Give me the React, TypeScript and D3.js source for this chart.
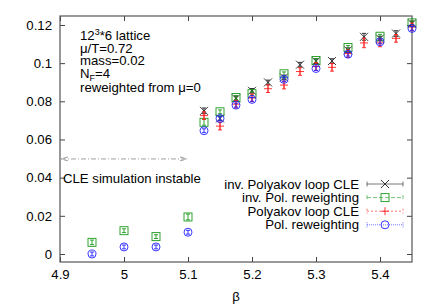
import React, { useEffect, useRef } from 'react';
import * as d3 from 'd3';

// beta values where the reweighting results exist
const betaRW = [4.95, 5.0, 5.05, 5.1, 5.125, 5.15, 5.175, 5.2, 5.25, 5.3, 5.35, 5.4, 5.45];
const invPolRW = [0.0061, 0.0122, 0.0091, 0.0194, 0.069, 0.0745, 0.082, 0.084, 0.0944, 0.1014, 0.1082, 0.1141, 0.1211];
const invPolRWErr = [0.0012, 0.001, 0.001, 0.0015, 0.0015, 0.001, 0.001, 0.001, 0.001, 0.001, 0.001, 0.001, 0.001];
const polRW = [0.0, 0.0037, 0.0037, 0.0114, 0.0646, 0.071, 0.078, 0.081, 0.0915, 0.0972, 0.1047, 0.1112, 0.1182];
const polRWErr = [0.001, 0.001, 0.001, 0.001, 0.001, 0.001, 0.001, 0.001, 0.001, 0.001, 0.001, 0.001, 0.001];

// beta values where CLE results exist
const betaCLE = [5.125, 5.15, 5.175, 5.2, 5.225, 5.25, 5.275, 5.3, 5.325, 5.35, 5.375, 5.4, 5.425, 5.45];
const invPolCLE = [0.075, 0.071, 0.0815, 0.0855, 0.0899, 0.0925, 0.0992, 0.101, 0.1011, 0.1068, 0.1138, 0.1129, 0.1155, 0.1208];
const invPolCLEErr = [0.0015, 0.0012, 0.0012, 0.0012, 0.0012, 0.0012, 0.0012, 0.0012, 0.0012, 0.0012, 0.0018, 0.0012, 0.0015, 0.0012];
const polCLE = [0.0725, 0.067, 0.0785, 0.0818, 0.0866, 0.0885, 0.0956, 0.0982, 0.0978, 0.105, 0.1106, 0.1106, 0.113, 0.119];
const polCLEErr = [0.002, 0.002, 0.002, 0.002, 0.002, 0.002, 0.002, 0.002, 0.002, 0.002, 0.0025, 0.002, 0.002, 0.002];

const xTicks = [4.9, 5.0, 5.1, 5.2, 5.3, 5.4];
const yTicks = [0, 0.02, 0.04, 0.06, 0.08, 0.1, 0.12];

const width = 436;
const height = 305;
const margin = { top: 16, right: 24, bottom: 43, left: 60 };

type Series = {
  name: string;
  x: number[];
  y: number[];
  err: number[];
  color: string;
  dash: string;
  marker: 'x' | 'square' | 'plus' | 'circle';
};

const series: Series[] = [
  { name: 'inv. Polyakov loop CLE', x: betaCLE, y: invPolCLE, err: invPolCLEErr, color: '#202020', dash: 'none', marker: 'x' },
  { name: 'inv. Pol. reweighting', x: betaRW, y: invPolRW, err: invPolRWErr, color: '#1a9a1a', dash: '4,2', marker: 'square' },
  { name: 'Polyakov loop CLE', x: betaCLE, y: polCLE, err: polCLEErr, color: '#ff2020', dash: '2,2', marker: 'plus' },
  { name: 'Pol. reweighting', x: betaRW, y: polRW, err: polRWErr, color: '#2020ff', dash: '1,1', marker: 'circle' },
];

function drawMarker(g: d3.Selection<SVGGElement, unknown, null, undefined>, kind: string, cx: number, cy: number, color: string) {
  const s = 4;
  let m;
  if (kind === 'x') {
    m = g.append('path').attr('d', `M${cx - s},${cy - s}L${cx + s},${cy + s}M${cx - s},${cy + s}L${cx + s},${cy - s}`);
  } else if (kind === 'plus') {
    m = g.append('path').attr('d', `M${cx - s},${cy}L${cx + s},${cy}M${cx},${cy - s}L${cx},${cy + s}`);
  } else if (kind === 'square') {
    m = g.append('rect').attr('x', cx - s).attr('y', cy - s).attr('width', 2 * s).attr('height', 2 * s);
  } else {
    m = g.append('circle').attr('cx', cx).attr('cy', cy).attr('r', s);
  }
  m.attr('stroke', color).attr('fill', 'none').attr('stroke-width', 0.9);
}

const App = () => {
  const ref = useRef<SVGSVGElement>(null);

  useEffect(() => {
    const svg = d3.select(ref.current);
    svg.selectAll('*').remove();
    const font = '"Liberation Sans", Arial, sans-serif';
    const fs = 13.2;

    const x = d3.scaleLinear().domain([4.9, 5.45]).range([margin.left, width - margin.right]);
    const y = d3.scaleLinear().domain([-0.0042, 0.1247]).range([height - margin.bottom, margin.top]);
    const x0 = margin.left, x1 = width - margin.right, y0 = height - margin.bottom, y1 = margin.top;

    // axes with inward ticks
    const xAxis = d3.axisBottom(x).tickValues(xTicks).tickSizeInner(-5).tickSizeOuter(0).tickPadding(8)
      .tickFormat(d => String(+(+d).toFixed(1)));
    const yAxis = d3.axisLeft(y).tickValues(yTicks).tickSizeInner(-5).tickSizeOuter(0).tickPadding(8)
      .tickFormat(d => String(+(+d).toFixed(2)));
    const xTop = d3.axisTop(x).tickValues(xTicks).tickSizeInner(-5).tickSizeOuter(0).tickFormat(() => '');
    const yRight = d3.axisRight(y).tickValues(yTicks).tickSizeInner(-5).tickSizeOuter(0).tickFormat(() => '');

    const axes = [
      svg.append('g').attr('transform', `translate(0,${y0})`).call(xAxis),
      svg.append('g').attr('transform', `translate(${x0},0)`).call(yAxis),
      svg.append('g').attr('transform', `translate(0,${y1})`).call(xTop),
      svg.append('g').attr('transform', `translate(${x1},0)`).call(yRight),
    ];
    axes.forEach(a => {
      a.select('.domain').remove();
      a.selectAll('line').attr('stroke', '#444');
      a.selectAll('text').attr('font-family', font).attr('font-size', fs).attr('fill', '#000');
    });

    svg.append('rect').attr('x', x0).attr('y', y1).attr('width', x1 - x0).attr('height', y0 - y1)
      .attr('fill', 'none').attr('stroke', '#555').attr('stroke-width', 1.2);

    // x label
    svg.append('text').attr('x', (x0 + x1) / 2).attr('y', 301).attr('text-anchor', 'middle')
      .attr('font-family', font).attr('font-size', fs).text('β');

    // info label
    const info = svg.append('text').attr('font-family', font).attr('font-size', fs);
    const lx = 80;
    const l1 = info.append('tspan').attr('x', lx).attr('y', 40);
    l1.append('tspan').text('12');
    l1.append('tspan').attr('font-size', 9).attr('dy', -5).text('3');
    l1.append('tspan').attr('dy', 5).text('*6 lattice');
    info.append('tspan').attr('x', lx).attr('y', 52.5).text('μ/T=0.72');
    info.append('tspan').attr('x', lx).attr('y', 65).text('mass=0.02');
    const l4 = info.append('tspan').attr('x', lx).attr('y', 77.5);
    l4.append('tspan').text('N');
    l4.append('tspan').attr('font-size', 9).attr('dy', 3).text('F');
    l4.append('tspan').attr('dy', -3).text('=4');
    info.append('tspan').attr('x', lx).attr('y', 92).text('reweighted from μ=0');

    // instability arrow
    const ay = y(0.0498);
    const ax0 = x(4.9) + 1, ax1 = x(5.1) - 1;
    svg.append('path')
      .attr('d', `M${ax0},${ay}L${ax1},${ay}M${ax0 + 7},${ay - 2}L${ax0},${ay}L${ax0 + 7},${ay + 2}M${ax1 - 7},${ay - 2}L${ax1},${ay}L${ax1 - 7},${ay + 2}`)
      .attr('stroke', '#a0a0a0').attr('fill', 'none').attr('stroke-dasharray', '5,2,1,2');
    svg.append('text').attr('x', x(4.9) + 3).attr('y', y(0.04) + 5)
      .attr('font-family', font).attr('font-size', fs).text('CLE simulation instable');

    // data
    series.forEach(s => {
      const g = svg.append('g');
      s.x.forEach((b, i) => {
        const cx = x(b);
        const ya = y(s.y[i] + s.err[i]), yb = y(s.y[i] - s.err[i]);
        g.append('path').attr('d', `M${cx},${ya}L${cx},${yb}M${cx - 2},${ya}L${cx + 2},${ya}M${cx - 2},${yb}L${cx + 2},${yb}`)
          .attr('stroke', s.color).attr('fill', 'none').attr('stroke-width', 0.9);
        drawMarker(g, s.marker, cx, y(s.y[i]), s.color);
      });
    });

    // legend
    const legTop = 184;
    series.forEach((s, i) => {
      const ly = legTop + i * 13.6;
      svg.append('text').attr('x', 359).attr('y', ly + 4.5).attr('text-anchor', 'end')
        .attr('font-family', font).attr('font-size', fs).text(s.name);
      const g = svg.append('g');
      g.append('path').attr('d', `M367,${ly}L403,${ly}M367,${ly - 2.5}L367,${ly + 2.5}M403,${ly - 2.5}L403,${ly + 2.5}`)
        .attr('stroke', s.color).attr('fill', 'none').attr('stroke-dasharray', s.dash).attr('opacity', 0.6);
      drawMarker(g, s.marker, 385, ly, s.color);
    });
  }, []);

  return (
    <svg ref={ref} width={width} height={height}
      style={{ position: 'absolute', left: 0, top: 0, background: '#fff' }} />
  );
};

export default App;
